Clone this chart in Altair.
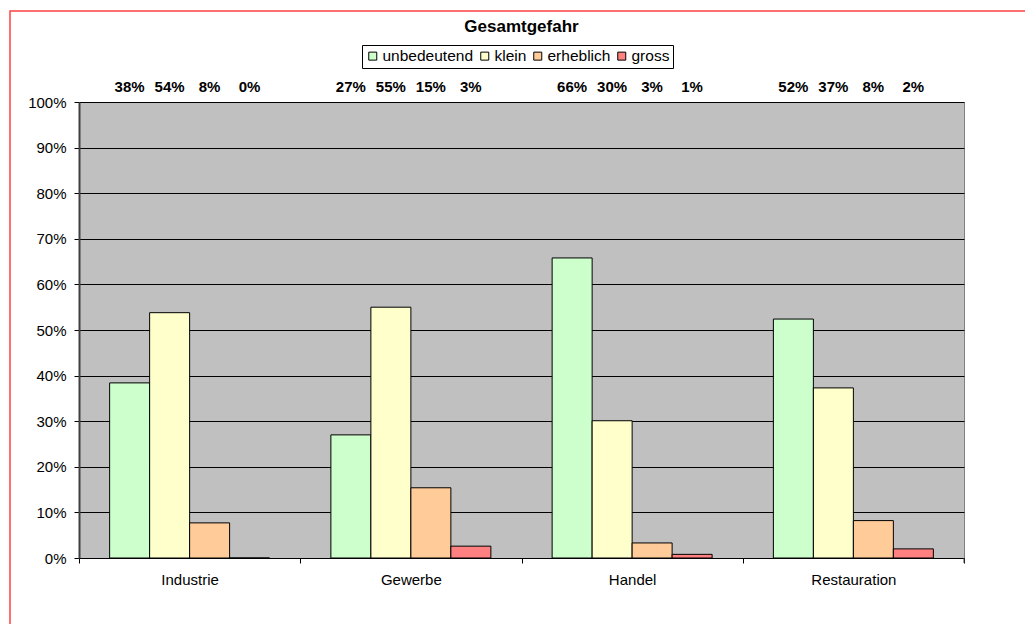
import altair as alt
import pandas as pd

categories = ["Industrie", "Gewerbe", "Handel", "Restauration"]
series = ["unbedeutend", "klein", "erheblich", "gross"]
colors = ["#CCFFCC", "#FFFFCC", "#FFCC99", "#FF8080"]

unbedeutend = [0.384, 0.270, 0.658, 0.524]
klein = [0.538, 0.550, 0.301, 0.373]
erheblich = [0.077, 0.154, 0.033, 0.082]
gross = [0.000, 0.026, 0.008, 0.020]

rows = []
for s, vals in zip(series, [unbedeutend, klein, erheblich, gross]):
    for c, v in zip(categories, vals):
        rows.append({"Kategorie": c, "Gefahr": s, "Anteil": v})
df = pd.DataFrame(rows)

W, H = 885, 456
FONT = "Liberation Sans"

x_enc = alt.X("Kategorie:N", sort=categories,
              scale=alt.Scale(paddingInner=0, paddingOuter=0),
              axis=alt.Axis(title=None, labelAngle=0, tickBand="extent",
                            tickSize=5, labelPadding=9, labelFontSize=15,
                            labelColor="black", tickColor="black",
                            domainColor="black", grid=False))
xoff = alt.XOffset("Gefahr:N", sort=series,
                   scale=alt.Scale(paddingInner=0, paddingOuter=0.766))

bars = alt.Chart(df).mark_bar(stroke="black", strokeWidth=1).encode(
    x=x_enc,
    xOffset=xoff,
    y=alt.Y("Anteil:Q",
            scale=alt.Scale(domain=[0, 1], nice=False),
            axis=alt.Axis(title=None, format=".0%", values=[i / 10 for i in range(11)],
                          tickSize=5, labelPadding=8, labelFontSize=15,
                          labelColor="black", tickColor="black",
                          domainColor="#404040", domainWidth=2,
                          grid=True, gridColor="black", gridOpacity=1, gridWidth=1)),
    color=alt.Color("Gefahr:N", sort=series,
                    scale=alt.Scale(domain=series, range=colors),
                    legend=alt.Legend(title=None, orient="none", direction="horizontal",
                                      legendX=283, legendY=-57,
                                      symbolType="square", symbolSize=64,
                                      symbolStrokeColor="black", symbolStrokeWidth=1,
                                      symbolOpacity=1,
                                      labelFontSize=15.5, labelColor="black",
                                      labelOffset=2, columnPadding=3,
                                      padding=3, strokeColor="black",
                                      fillColor="white")),
)

labels = alt.Chart(df).mark_text(fontWeight="bold", fontSize=15, font=FONT,
                                  baseline="middle", color="black").encode(
    x=alt.X("Kategorie:N", sort=categories),
    xOffset=alt.XOffset("Gefahr:N", sort=series),
    y=alt.value(-15),
    text=alt.Text("Anteil:Q", format=".0%"),
)

end_tick = alt.Chart(pd.DataFrame({"a": [0]})).mark_rule(color="#404040").encode(
    x=alt.value(W), y=alt.value(H), y2=alt.value(H + 5))

border = alt.Chart(pd.DataFrame({"a": [0]})).mark_rect(
    fill=None, fillOpacity=0, stroke="#FF4040", strokeWidth=1.5).encode(
    x=alt.value(-69), y=alt.value(-91), x2=alt.value(W + 200), y2=alt.value(H + 200))

chart = alt.layer(bars, labels, end_tick, border).properties(
    width=W, height=H,
    title=alt.Title("Gesamtgefahr", fontSize=17, fontWeight="bold", font=FONT,
                    color="black", anchor="middle", offset=0, dy=26),
    background="white",
    padding={"left": 79, "top": 102, "right": 61, "bottom": 66},
    autosize=alt.AutoSizeParams(type="none"),
).configure(font=FONT).configure_view(
    fill="#C0C0C0", stroke="#808080", strokeWidth=1
).configure_axis(labelFont=FONT).configure_legend(labelFont=FONT)

chart.save("out.html", embed_options={"renderer": "svg", "actions": False})
